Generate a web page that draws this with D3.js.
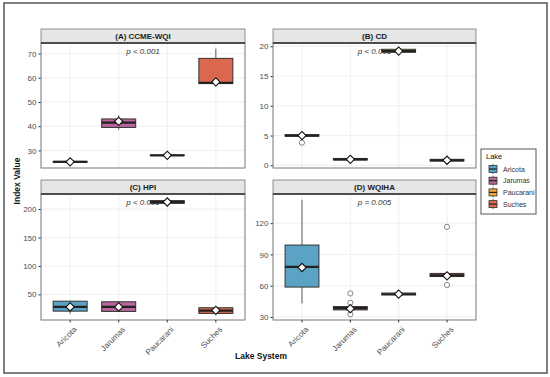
<!DOCTYPE html>
<html><head><meta charset="utf-8">
<script src="https://cdn.jsdelivr.net/npm/d3@7"></script>
<style>body{margin:0;background:#fff}svg{display:block;font-family:"Liberation Sans",Arial,sans-serif}</style>
</head><body><svg id="c" width="550" height="377"></svg>
<script>
const categories = ["Aricota", "Jarumas", "Paucarani", "Suches"];
const lakeColors = ["#5ba3c4", "#b8659b", "#efa83c", "#d9684f"];
const panelTitles = ["(A) CCME-WQI", "(B) CD", "(C) HPI", "(D) WQIHA"];
const pTexts = ["p < 0.001", "p < 0.001", "p < 0.001", "p = 0.005"];

// [lower whisker, Q1, median, Q3, upper whisker] per lake
const ccmeStats = [[25.1, 25.2, 25.3, 25.5, 26.5], [38.5, 39.5, 41.5, 43.0, 44.5], [27.9, 27.95, 28.0, 28.1, 28.2], [57.5, 57.6, 57.9, 68.0, 72.0]];
const ccmeMeans = [25.3, 42.0, 28.0, 58.3];
const ccmeOutliers = [[], [], [], []];
const ccmeTicks = [30, 40, 50, 60, 70];

const cdStats = [[4.9, 4.9, 5.0, 5.15, 5.2], [0.8, 0.9, 1.0, 1.15, 1.2], [19.0, 19.0, 19.2, 19.5, 19.6], [0.5, 0.7, 0.85, 1.0, 1.1]];
const cdMeans = [5.0, 1.0, 19.2, 0.85];
const cdOutliers = [[3.8], [], [], []];
const cdTicks = [0, 5, 10, 15, 20];

const hpiStats = [[16.0, 20.5, 28.0, 38.0, 38.5], [19.0, 20.0, 28.0, 37.0, 37.5], [209.0, 210.0, 212.5, 215.0, 216.5], [15.0, 16.5, 21.5, 26.5, 27.0]];
const hpiMeans = [28.0, 28.0, 212.5, 22.0];
const hpiOutliers = [[], [], [], []];
const hpiTicks = [50, 100, 150, 200];

const wqihaStats = [[43.0, 58.7, 78.0, 99.0, 142.5], [35.5, 36.8, 38.5, 40.0, 41.0], [51.0, 51.2, 51.8, 53.0, 53.2], [68.6, 68.8, 70.0, 71.8, 72.0]];
const wqihaMeans = [77.5, 38.0, 52.0, 69.5];
const wqihaOutliers = [[], [52.6, 43.6, 32.6], [], [116.5, 60.7]];
const wqihaTicks = [30, 60, 90, 120];

const panelStats = [ccmeStats, cdStats, hpiStats, wqihaStats];
const panelMeans = [ccmeMeans, cdMeans, hpiMeans, wqihaMeans];
const panelOutliers = [ccmeOutliers, cdOutliers, hpiOutliers, wqihaOutliers];
const panelTicks = [ccmeTicks, cdTicks, hpiTicks, wqihaTicks];

const svg = d3.select("#c");
svg.append("rect").attr("x", 4).attr("y", 3).attr("width", 543).attr("height", 370)
  .attr("fill", "#fff").attr("stroke", "#555").attr("stroke-width", 1.5);

const cols = [[41, 245], [273, 476]];
const rows = [[29, 43, 168], [180, 194, 320]];
const tickCol = "#4d4d4d";

panelTitles.forEach((title, i) => {
  const [x0, x1] = cols[i % 2];
  const [sTop, pTop, pBot] = rows[Math.floor(i / 2)];
  const stats = panelStats[i], means = panelMeans[i], outs = panelOutliers[i];
  const all = stats.flat().concat(means, outs.flat());
  const [mn, mx] = d3.extent(all);
  const pad = (mx - mn) * 0.05;
  const y = d3.scaleLinear().domain([mn - pad, mx + pad]).range([pBot, pTop]);
  const x = d3.scaleBand().domain(categories).range([x0, x1]).paddingOuter(0.1).paddingInner(0);
  // ggplot discrete expansion: 0.6 on each side
  const step = (x1 - x0) / (categories.length - 1 + 1.2);
  const cx = c => x0 + step * (0.6 + categories.indexOf(c));
  const g = svg.append("g");
  // grid
  g.selectAll(".gy").data(panelTicks[i]).join("line")
    .attr("x1", x0).attr("x2", x1).attr("y1", d => y(d)).attr("y2", d => y(d))
    .attr("stroke", "#ebebeb").attr("stroke-width", 0.8);
  g.selectAll(".gx").data(categories).join("line")
    .attr("x1", d => cx(d)).attr("x2", d => cx(d)).attr("y1", pTop).attr("y2", pBot)
    .attr("stroke", "#ebebeb").attr("stroke-width", 0.8);
  // y axis
  const ax = g.append("g").attr("transform", `translate(${x0},0)`)
    .call(d3.axisLeft(y).tickValues(panelTicks[i]).tickSize(2.5).tickPadding(2));
  ax.select(".domain").remove();
  ax.selectAll("line").attr("stroke", "#333");
  ax.selectAll("text").attr("fill", tickCol).attr("font-size", 8);
  // p text
  g.append("text").attr("x", (x0 + x1) / 2).attr("y", pTop + 11)
    .attr("text-anchor", "middle").attr("font-size", 8).attr("font-style", "italic")
    .attr("fill", "#333").text(pTexts[i]);
  // boxes
  const bw = step * 0.7;
  stats.forEach((s, k) => {
    const c = cx(categories[k]);
    const bg = g.append("g");
    bg.append("line").attr("x1", c).attr("x2", c).attr("y1", y(s[4])).attr("y2", y(s[3]))
      .attr("stroke", "#333").attr("stroke-width", 0.8);
    bg.append("line").attr("x1", c).attr("x2", c).attr("y1", y(s[1])).attr("y2", y(s[0]))
      .attr("stroke", "#333").attr("stroke-width", 0.8);
    bg.append("rect").attr("x", c - bw / 2).attr("width", bw)
      .attr("y", y(s[3])).attr("height", Math.max(0.1, y(s[1]) - y(s[3])))
      .attr("fill", lakeColors[k]).attr("stroke", "#333").attr("stroke-width", 1);
    bg.append("line").attr("x1", c - bw / 2).attr("x2", c + bw / 2).attr("y1", y(s[2])).attr("y2", y(s[2]))
      .attr("stroke", "#222").attr("stroke-width", 2.2);
    outs[k].forEach(o => {
      bg.append("circle").attr("cx", c).attr("cy", y(o)).attr("r", 2.6)
        .attr("fill", "#fff").attr("stroke", "#777").attr("stroke-width", 0.9);
    });
    bg.append("path").attr("d", d3.symbol(d3.symbolSquare, 34)())
      .attr("transform", `translate(${c},${y(means[k])}) rotate(45)`)
      .attr("fill", "#fff").attr("stroke", "#111").attr("stroke-width", 1.1);
  });
  // strip
  g.append("rect").attr("x", x0).attr("y", sTop).attr("width", x1 - x0).attr("height", pTop - sTop)
    .attr("fill", "#e6e6e6").attr("stroke", "#777").attr("stroke-width", 0.8);
  g.append("text").attr("x", (x0 + x1) / 2).attr("y", sTop + 10)
    .attr("text-anchor", "middle").attr("font-size", 8).attr("font-weight", "bold")
    .attr("fill", "#1a1a1a").text(title);
  // panel border
  g.append("rect").attr("x", x0).attr("y", pTop).attr("width", x1 - x0).attr("height", pBot - pTop)
    .attr("fill", "none").attr("stroke", "#777").attr("stroke-width", 1);
  g.append("line").attr("x1", x0).attr("x2", x1).attr("y1", pTop).attr("y2", pTop)
    .attr("stroke", "#333").attr("stroke-width", 1.6);
  // x axis for bottom row
  if (i >= 2) {
    categories.forEach(c => {
      g.append("line").attr("x1", cx(c)).attr("x2", cx(c)).attr("y1", pBot).attr("y2", pBot + 2.5)
        .attr("stroke", "#333");
      g.append("text").attr("transform", `translate(${cx(c) + 3},${pBot + 6}) rotate(-45)`)
        .attr("text-anchor", "end").attr("dy", "0.7em").attr("font-size", 8)
        .attr("fill", tickCol).text(c);
    });
  }
});

// axis titles
svg.append("text").attr("transform", "translate(20,181) rotate(-90)")
  .attr("text-anchor", "middle").attr("font-size", 8.5).attr("font-weight", "bold")
  .attr("fill", "#111").text("Index Value");
svg.append("text").attr("x", 261).attr("y", 359)
  .attr("text-anchor", "middle").attr("font-size", 8.5).attr("font-weight", "bold")
  .attr("fill", "#111").text("Lake System");

// legend
const lg = svg.append("g");
lg.append("rect").attr("x", 481).attr("y", 149).attr("width", 55).attr("height", 65)
  .attr("fill", "#fff").attr("stroke", "#555").attr("stroke-width", 1);
lg.append("text").attr("x", 486).attr("y", 159).attr("font-size", 7.5).attr("fill", "#111").text("Lake");
categories.forEach((c, k) => {
  const yy = 169 + k * 11.7;
  lg.append("line").attr("x1", 493).attr("x2", 493).attr("y1", yy - 5).attr("y2", yy + 5)
    .attr("stroke", "#333").attr("stroke-width", 0.8);
  lg.append("rect").attr("x", 489).attr("y", yy - 3.5).attr("width", 8).attr("height", 7)
    .attr("fill", lakeColors[k]).attr("stroke", "#333").attr("stroke-width", 0.8);
  lg.append("line").attr("x1", 489).attr("x2", 497).attr("y1", yy).attr("y2", yy)
    .attr("stroke", "#222").attr("stroke-width", 1.2);
  lg.append("text").attr("x", 503).attr("y", yy + 2.5).attr("font-size", 7).attr("fill", "#333").text(c);
});
</script></body></html>
